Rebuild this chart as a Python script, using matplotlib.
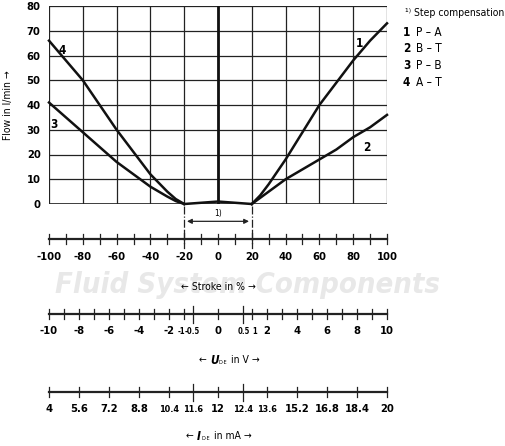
import matplotlib
matplotlib.use("Agg")
import matplotlib.pyplot as plt
import numpy as np
from matplotlib.transforms import blended_transform_factory, ScaledTranslation

plt.rcParams['font.family'] = ['DejaVu Sans']
plt.rcParams['font.stretch'] = 'condensed'

stroke_r = [20, 25, 30, 40, 50, 60, 70, 80, 90, 100]
flow_1 = [0, 3.5, 8, 18, 29, 40, 49, 58, 66, 73]
flow_2 = [0, 2.5, 5, 10, 14, 18, 22, 27, 31, 36]
stroke_l = [-100, -90, -80, -70, -60, -50, -40, -30, -25, -20]
flow_4 = [66, 58, 50, 40, 30, 21, 12, 5, 2, 0]
flow_3 = [41, 35, 29, 23, 17, 12, 7, 3, 1.2, 0]
stroke_mid = [-20, -10, 0, 10, 20]
flow_mid = [0, 0.5, 1, 0.5, 0]

stroke_ticks = list(range(-100, 101, 10))
stroke_labels = [-100, -80, -60, -40, -20, 0, 20, 40, 60, 80, 100]
volt_minor = [-10, -9, -8, -7, -6, -5, -4, -3, -2, -1, 0, 1, 2, 3, 4, 5, 6, 7, 8, 9, 10]
volt_labels = [-10, -8, -6, -4, -2, -1, -0.5, 0, 0.5, 1, 2, 4, 6, 8, 10]
ma_labels = [4, 5.6, 7.2, 8.8, 10.4, 11.6, 12, 12.4, 13.6, 15.2, 16.8, 18.4, 20]

def v2s(v):
    v = np.asarray(v, dtype=float)
    a = np.abs(v)
    s = np.where(a <= 0.5, a * 30, np.where(a <= 1, 15 + (a - 0.5) * 10, 20 + (a - 1) * 80 / 9))
    return np.sign(v) * s

def ma2s(m):
    return v2s((np.asarray(m) - 12) / 0.8)

W, H = 506, 446
fig = plt.figure(figsize=(W / 100, H / 100), dpi=100)
L, R = 49 / W, 387 / W

fig.text(0.49, 1 - 285 / H, "Fluid System Components", fontsize=21, fontweight='bold',
         style='italic', color='#e8e8e8', ha='center', va='center', zorder=0)

ax = fig.add_axes([L, 1 - 204 / H, R - L, (204 - 6) / H])
ax.set_xlim(-100, 100)
ax.set_ylim(0, 80)
ax.set_xticks(range(-100, 101, 20))
ax.set_xticklabels([])
ax.set_yticks(range(0, 81, 10))
ax.tick_params(axis='x', length=0)
ax.tick_params(axis='y', length=0, labelsize=8, pad=6)
for t in ax.get_yticklabels():
    t.set_fontweight('bold')
ax.grid(True, color='#222', lw=0.9)
for sp in ax.spines.values():
    sp.set_visible(False)
ax.patch.set_alpha(0)
ax.axhline(0, color='#222', lw=1.2)
kw = dict(color='#111', lw=1.8, clip_on=False)
ax.plot(stroke_r, flow_1, **kw)
ax.plot(stroke_r, flow_2, **kw)
ax.plot(stroke_l, flow_4, **kw)
ax.plot(stroke_l, flow_3, **kw)
ax.plot(stroke_mid, flow_mid, **kw)
ax.plot([0, 0], [0, 80], color='#111', lw=2)
for xv in (-20, 20):
    ax.plot([xv, xv], [-1, -16], color='#222', lw=0.9, ls='-.', clip_on=False)
ax.annotate('', xy=(-20, -7), xytext=(20, -7), annotation_clip=False,
            arrowprops=dict(arrowstyle='<|-|>', color='#222', lw=0.9, mutation_scale=7))
ax.text(0, -5.5, '1)', fontsize=6, ha='center', va='bottom')
for lab, x, y in [('4', -92, 62), ('3', -97, 32), ('1', 84, 65), ('2', 88, 23)]:
    ax.text(x, y, lab, fontsize=8.5, fontweight='bold', ha='center', va='center')
ax.set_ylabel('Flow in l/min →', fontsize=7.5, labelpad=10)

fig.text(405 / W, 1 - 13 / H, '¹⁾ Step compensation', fontsize=7.5, va='center')
for i, (n, t) in enumerate([('1', 'P – A'), ('2', 'B – T'), ('3', 'P – B'), ('4', 'A – T')]):
    y = 1 - (32 + i * 16.7) / H
    fig.text(403 / W, y, n, fontsize=8.5, fontweight='bold', va='center')
    fig.text(416 / W, y, t, fontsize=8.5, va='center')

def scale_axis(ypix):
    a = fig.add_axes([L, 1 - ypix / H, R - L, 0.001])
    a.set_xlim(-100, 100)
    a.set_yticks([])
    for k in ('top', 'left', 'right'):
        a.spines[k].set_visible(False)
    a.spines['bottom'].set_linewidth(1.6)
    a.spines['bottom'].set_color('#222')
    a.patch.set_alpha(0)
    return a

def draw_ticks(a, pos, big=()):
    tr = blended_transform_factory(a.transData, fig.dpi_scale_trans)
    ypos = a.get_position().y0 * H / 100
    for p in pos:
        h = 0.085 if any(abs(p - b) < 1e-6 for b in big) else 0.05
        a.plot([p, p], [ypos - h, ypos + h], color='#222', lw=0.9, transform=tr, clip_on=False)

def labels(a, pos, texts, sizes=None, pad=9):
    a.set_xticks(pos)
    a.set_xticklabels(texts)
    a.tick_params(axis='x', length=0, pad=pad, labelsize=8)
    for i, t in enumerate(a.get_xticklabels()):
        t.set_fontweight('bold')
        if sizes is not None:
            t.set_fontsize(sizes[i])

a1 = scale_axis(239)
draw_ticks(a1, stroke_ticks, big=[-20, 20])
labels(a1, stroke_labels, [str(s) for s in stroke_labels])
fig.text(218 / W, 1 - 287 / H, '← Stroke in % →', fontsize=7.5, ha='center', va='center')

a2 = scale_axis(314)
draw_ticks(a2, list(v2s(volt_minor)) + list(v2s([-0.5, 0.5])), big=list(v2s([-0.5, 0.5])))
vs = [8] * len(volt_labels)
for i, v in enumerate(volt_labels):
    if v in (-1, -0.5, 0.5, 1):
        vs[i] = 5.5
labels(a2, list(v2s(volt_labels)), [('%g' % v) for v in volt_labels], vs)
for t, v in zip(a2.get_xticklabels(), volt_labels):
    if v in (-1, 1):
        t.set_transform(t.get_transform() + ScaledTranslation(np.sign(v) * 2.5 / 100, 0, fig.dpi_scale_trans))
fig.text(210 / W, 1 - 360 / H, '← ', fontsize=7.5, ha='right', va='center')
fig.text(210 / W, 1 - 360 / H, 'U', fontsize=8.5, ha='left', va='center', fontweight='bold', style='italic')
fig.text(218.5 / W, 1 - 363 / H, 'D-E', fontsize=4, ha='left', va='center')
fig.text(228 / W, 1 - 360 / H, ' in V →', fontsize=7.5, ha='left', va='center')

a3 = scale_axis(392)
draw_ticks(a3, list(ma2s(ma_labels)), big=list(ma2s([11.6, 12.4])))
ms = [8] * len(ma_labels)
for i, m in enumerate(ma_labels):
    if m in (10.4, 11.6, 12.4, 13.6):
        ms[i] = 6.5
labels(a3, list(ma2s(ma_labels)), [('%g' % m) for m in ma_labels], ms)
fig.text(197 / W, 1 - 436 / H, '← ', fontsize=7.5, ha='right', va='center')
fig.text(197 / W, 1 - 436 / H, 'I', fontsize=8.5, ha='left', va='center', fontweight='bold', style='italic')
fig.text(202 / W, 1 - 439 / H, 'D-E', fontsize=4, ha='left', va='center')
fig.text(211 / W, 1 - 436 / H, ' in mA →', fontsize=7.5, ha='left', va='center')

fig.savefig('out.png', dpi=100)
